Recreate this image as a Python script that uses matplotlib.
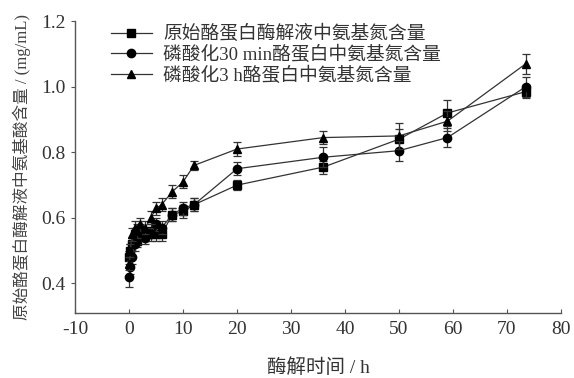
import matplotlib
matplotlib.use("Agg")
import matplotlib.pyplot as plt

plt.rcParams['font.family'] = ['Liberation Serif', 'Noto Sans CJK SC', 'DejaVu Sans']
plt.rcParams['axes.unicode_minus'] = False

# Hydrolysis time (h)
hours = [0, 0.25, 0.5, 1, 1.5, 2, 3, 4, 5, 6, 8, 10, 12, 20, 36, 50, 59, 73.5]

# Amino nitrogen content (mg/mL)
native = [0.48, 0.50, 0.52, 0.55, 0.53, 0.56, 0.55, 0.56, 0.55, 0.55, 0.61, 0.62, 0.64, 0.70, 0.755, 0.84, 0.92, 0.985]
native_err = [0.02, 0.02, 0.02, 0.02, 0.02, 0.02, 0.02, 0.02, 0.02, 0.02, 0.02, 0.02, 0.02, 0.015, 0.02, 0.03, 0.04, 0.02]

phos30 = [0.42, 0.45, 0.48, 0.52, 0.54, 0.55, 0.54, 0.55, 0.58, 0.57, 0.61, 0.63, 0.64, 0.75, 0.785, 0.805, 0.845, 1.00]
phos30_err = [0.03, 0.02, 0.02, 0.02, 0.02, 0.02, 0.02, 0.02, 0.02, 0.02, 0.02, 0.02, 0.02, 0.02, 0.03, 0.03, 0.03, 0.03]

phos3h = [0.46, 0.50, 0.55, 0.57, 0.56, 0.58, 0.57, 0.60, 0.63, 0.64, 0.68, 0.71, 0.76, 0.81, 0.845, 0.85, 0.895, 1.07]
phos3h_err = [0.02, 0.02, 0.02, 0.02, 0.02, 0.02, 0.02, 0.02, 0.02, 0.02, 0.02, 0.02, 0.015, 0.02, 0.02, 0.04, 0.03, 0.03]

labels = ['原始酪蛋白酶解液中氨基氮含量',
          '磷酸化30 min酪蛋白中氨基氮含量',
          '磷酸化3 h酪蛋白中氨基氮含量']

fig = plt.figure(figsize=(5.74, 3.78), dpi=100)
ax = fig.add_axes([0.131, 0.172, 0.846, 0.772])

series = [(native, native_err, 's'), (phos30, phos30_err, 'o'), (phos3h, phos3h_err, '^')]
for (vals, errs, mk), lab in zip(series, labels):
    ax.errorbar(hours, vals, yerr=errs, fmt='none', ecolor='#333333',
                elinewidth=0.9, capsize=3, capthick=0.9)
    ax.plot(hours, vals, '-', marker=mk, color='#333333', mfc='black',
            mec='black', ms=6, lw=0.9, label=lab)

ax.set_xlim(-10, 80)
ax.set_ylim(0.31, 1.2)
ax.set_xticks(range(-10, 81, 10))
ax.set_yticks([0.4, 0.6, 0.8, 1.0, 1.2])
ax.set_yticklabels(['0.4', '0.6', '0.8', '1.0', '1.2'])

for s in ['top', 'right']:
    ax.spines[s].set_visible(False)
for s in ['left', 'bottom']:
    ax.spines[s].set_color('#555555')
    ax.spines[s].set_linewidth(1.0)

ax.tick_params(axis='x', direction='in', length=3, color='#555555', labelsize=14, pad=6)
ax.tick_params(axis='y', direction='out', length=3, color='#555555', labelsize=14, pad=4)
for t in ax.get_xticklabels() + ax.get_yticklabels():
    t.set_color('#333333')

ax.set_xlabel('酶解时间 / h', fontsize=14, color='#333333', labelpad=14)
ax.set_ylabel('原始酪蛋白酶解液中氨基酸含量 / (mg/mL)', fontsize=12, color='#444444', labelpad=7)

leg = ax.legend(loc='upper left', bbox_to_anchor=(0.05, 1.025), frameon=False,
                fontsize=13.5, handlelength=2.2, handletextpad=0.6,
                labelspacing=0.12, borderaxespad=0.2)
for t in leg.get_texts():
    t.set_color('#333333')

fig.savefig('out.png', dpi=100)
